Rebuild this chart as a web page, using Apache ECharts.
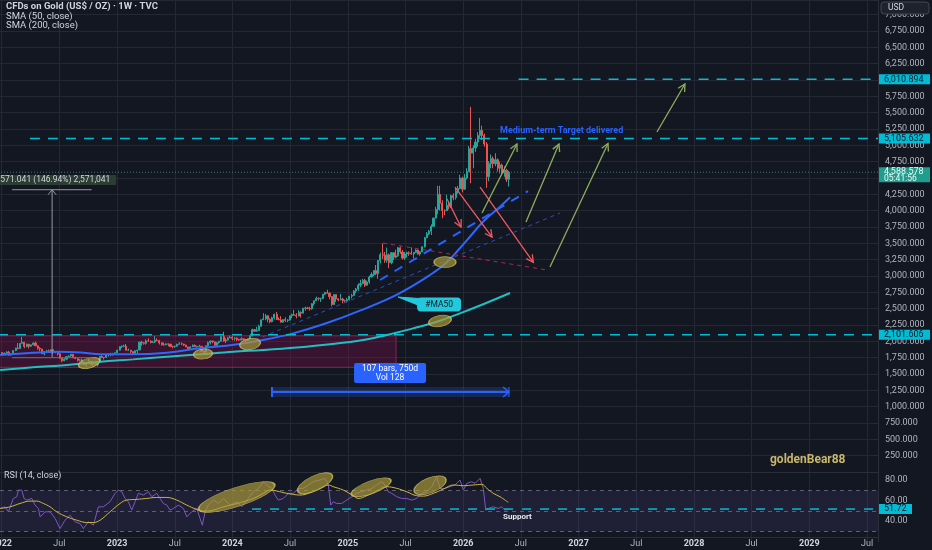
<!DOCTYPE html>
<html><head><meta charset="utf-8">
<script src="https://cdn.jsdelivr.net/npm/echarts@6/dist/echarts.min.js"></script>
<style>html,body{margin:0;padding:0;background:#131722;overflow:hidden}#c{width:932px;height:550px}</style>
</head><body><div id="c"></div>
<script>
// ---------- DATA ----------
const firstBarUTC = Date.UTC(2022, 0, 3);   // weekly bars, Monday dates
const firstOpen = 1829;
const weekClose = [
 1797,1818,1835,1791,1808,1859,1898,1889,1970,1988,1921,1958,1925,1947,1975,1931,1896,1883,1811,1846,1853,1850,1871,1840,1827,1811,1742,1703,1727,1766,1775,1802,1747,1738,1712,1716,1675,1643,1660,1694,1644,1657,1644,1681,1771,1751,1755,1797,1797,1793,1798,1824,
 1865,1920,1926,1928,1865,1865,1842,1811,1856,1868,1989,1978,1969,2007,2004,1983,1990,2017,2011,1977,1946,1948,1961,1958,1921,1919,1925,1955,1962,1959,1943,1914,1889,1915,1940,1919,1924,1925,1849,1833,1932,1981,2006,1993,1940,1981,2002,2072,2005,2019,2053,2063,
 2045,2049,2029,2018,2039,2024,2013,2035,2083,2179,2155,2165,2230,2330,2344,2392,2337,2301,2360,2415,2334,2327,2294,2333,2321,2326,2392,2411,2400,2387,2443,2431,2507,2512,2503,2497,2577,2622,2658,2653,2657,2721,2747,2737,2685,2563,2716,2650,2633,2648,2622,2621,2640,
 2690,2703,2770,2800,2861,2883,2936,2858,2910,2984,3023,3084,3037,3237,3327,3319,3240,3325,3203,3357,3289,3310,3432,3368,3274,3337,3355,3350,3337,3363,3398,3336,3371,3448,3586,3643,3685,3760,3886,4018,4250,4112,4002,4000,4085,4065,4230,4200,4300,4340,4500,4330,
 4500,4600,4950,4880,4960,5050,5150,5230,5150,5020,4520,4720,4800,4720,4780,4650,4700,4580,4620,4480,4588.578
];
const weekHigh = [
 1831,1828,1848,1853,1816,1865,1902,1974,1974,2070,1990,1966,1960,1948,1982,1998,1936,1910,1884,1850,1870,1874,1875,1879,1847,1834,1813,1745,1739,1767,1788,1807,1804,1765,1740,1729,1735,1688,1676,1730,1700,1669,1675,1682,1773,1787,1760,1805,1810,1824,1823,1834,
 1870,1922,1937,1949,1959,1890,1870,1847,1858,1870,1990,2009,1987,2032,2048,2015,2009,2079,2048,2022,1985,1983,1972,1971,1959,1933,1935,1963,1987,1982,1963,1948,1918,1926,1953,1953,1933,1947,1926,1856,1935,1997,2009,2010,1994,1993,2008,2075,2146,2047,2070,2088,
 2078,2062,2060,2041,2065,2044,2032,2041,2088,2195,2185,2223,2255,2330,2431,2418,2395,2353,2378,2422,2450,2364,2387,2335,2369,2339,2392,2424,2483,2432,2477,2461,2509,2531,2528,2529,2586,2625,2685,2673,2668,2722,2758,2790,2750,2690,2721,2721,2657,2726,2665,2638,2665,
 2697,2726,2786,2817,2886,2942,2955,2956,2930,3005,3057,3086,3168,3245,3358,3500,3368,3435,3345,3366,3365,3403,3446,3452,3398,3365,3375,3377,3439,3363,3409,3404,3378,3453,3600,3674,3707,3791,3897,4059,4380,4381,4160,4020,4245,4135,4245,4265,4350,4380,4550,4520,
 4560,4650,4990,5590,5000,5100,5200,5420,5300,5180,5050,4760,4860,4830,4880,4800,4750,4720,4680,4640,4610
];
const weekLow = [
 1782,1790,1805,1780,1780,1807,1850,1878,1889,1966,1895,1910,1890,1915,1940,1930,1872,1850,1808,1786,1840,1828,1825,1805,1818,1784,1733,1681,1696,1711,1754,1765,1745,1728,1688,1690,1654,1639,1614,1660,1640,1617,1638,1616,1673,1747,1721,1745,1766,1774,1784,1795,
 1824,1861,1896,1911,1861,1852,1819,1809,1804,1809,1865,1934,1949,1949,1992,1969,1975,1976,2000,1951,1936,1932,1940,1925,1910,1893,1902,1920,1952,1942,1928,1911,1885,1884,1913,1913,1901,1913,1846,1810,1833,1908,1953,1970,1932,1931,1965,2001,1995,1973,2016,2052,
 2016,2013,2001,2009,2016,2015,1984,2010,2024,2078,2146,2146,2163,2228,2326,2324,2291,2277,2291,2336,2326,2325,2287,2286,2296,2293,2319,2353,2392,2353,2383,2364,2431,2470,2491,2471,2485,2546,2614,2625,2603,2646,2708,2730,2643,2537,2558,2605,2614,2630,2583,2603,2596,
 2625,2656,2693,2736,2772,2832,2883,2832,2853,2880,2982,2999,3015,2957,3194,3260,3202,3202,3120,3180,3245,3270,3293,3340,3255,3247,3283,3309,3325,3268,3352,3330,3311,3364,3436,3578,3627,3628,3760,3884,3947,4004,3886,3930,4000,4020,4040,4160,4170,4260,4330,4280,
 4320,4480,4590,4420,4650,4900,4980,5100,5080,4980,4350,4450,4650,4650,4680,4600,4570,4540,4520,4440,4370
];
// SMA lines: [decimal year, price]
const sma50Pts = [[2021.986,1791],[2022.272,1826],[2022.480,1841],[2022.705,1826],[2022.853,1801],[2023.139,1801],[2023.433,1826],[2023.719,1893],[2023.997,1944],[2024.265,2020],[2024.525,2122],[2024.819,2280],[2025.105,2470],[2025.435,2724],[2025.712,3015],[2025.859,3214],[2026.033,3550],[2026.172,3830],[2026.319,4060],[2026.406,4205]];
const sma200Pts = [[2021.986,1561],[2022.272,1602],[2022.567,1637],[2022.853,1688],[2023.139,1724],[2023.433,1764],[2023.719,1801],[2024.005,1841],[2024.265,1867],[2024.560,1905],[2024.846,1954],[2025.132,2020],[2025.340,2097],[2025.565,2199],[2025.773,2300],[2025.972,2429],[2026.189,2580],[2026.406,2740]];
// RSI(14) and its MA
const rsiPts = [[2021.986,52.3],[2022.029,53.9],[2022.058,49.0],[2022.101,62.1],[2022.131,63.8],[2022.145,70.3],[2022.174,70.3],[2022.194,62.1],[2022.217,60.5],[2022.261,62.1],[2022.289,55.6],[2022.318,52.3],[2022.333,44.1],[2022.376,49.0],[2022.419,49.0],[2022.463,42.5],[2022.506,32.6],[2022.549,40.8],[2022.593,45.7],[2022.636,39.2],[2022.679,37.5],[2022.708,32.6],[2022.751,39.2],[2022.795,35.9],[2022.838,53.9],[2022.881,53.9],[2022.939,58.9],[2022.983,67.1],[2023.011,70.3],[2023.041,68.7],[2023.069,62.1],[2023.098,58.9],[2023.127,50.7],[2023.156,58.9],[2023.185,67.1],[2023.228,65.4],[2023.271,68.7],[2023.301,63.8],[2023.344,67.1],[2023.373,62.1],[2023.401,57.2],[2023.431,55.6],[2023.459,50.7],[2023.488,52.3],[2023.531,55.6],[2023.575,52.3],[2023.605,44.1],[2023.647,49.0],[2023.691,52.3],[2023.719,42.5],[2023.739,35.9],[2023.763,49.0],[2023.791,55.6],[2023.835,60.5],[2023.878,57.2],[2023.921,62.1],[2023.979,55.6],[2024.037,58.9],[2024.081,53.9],[2024.138,62.1],[2024.181,68.7],[2024.225,72.0],[2024.268,78.5],[2024.297,75.3],[2024.341,72.0],[2024.369,65.4],[2024.398,60.5],[2024.441,62.1],[2024.485,67.1],[2024.527,67.1],[2024.571,72.0],[2024.614,72.0],[2024.658,75.3],[2024.701,78.5],[2024.759,80.2],[2024.802,81.8],[2024.831,75.3],[2024.852,55.6],[2024.874,58.9],[2024.904,57.2],[2024.947,57.2],[2024.991,60.5],[2025.034,63.8],[2025.077,67.1],[2025.120,68.7],[2025.164,70.3],[2025.207,72.0],[2025.250,75.3],[2025.294,78.5],[2025.322,75.3],[2025.351,68.7],[2025.380,67.1],[2025.424,63.8],[2025.467,62.1],[2025.510,62.1],[2025.554,60.5],[2025.597,62.1],[2025.641,67.1],[2025.684,68.7],[2025.727,73.6],[2025.770,83.5],[2025.799,72.0],[2025.842,72.0],[2025.886,73.6],[2025.929,75.3],[2025.972,80.2],[2026.001,70.3],[2026.031,76.9],[2026.074,78.5],[2026.103,76.9],[2026.146,81.8],[2026.174,72.0],[2026.195,50.7],[2026.218,52.3],[2026.261,53.9],[2026.304,52.3],[2026.333,53.9],[2026.362,50.7],[2026.391,51.72]];
const rsiMaPts = [[2021.986,52.3],[2022.073,53.9],[2022.159,57.2],[2022.246,59.5],[2022.304,59.5],[2022.361,57.2],[2022.419,53.9],[2022.477,49.0],[2022.564,44.1],[2022.651,40.8],[2022.737,38.5],[2022.795,38.5],[2022.853,40.8],[2022.939,49.0],[2023.026,57.2],[2023.084,60.5],[2023.171,61.2],[2023.257,62.1],[2023.344,63.1],[2023.431,63.1],[2023.517,60.5],[2023.604,55.6],[2023.691,51.3],[2023.748,49.7],[2023.835,50.7],[2023.921,53.9],[2024.008,56.2],[2024.094,58.9],[2024.181,62.1],[2024.268,67.1],[2024.326,70.3],[2024.384,69.4],[2024.471,67.1],[2024.527,66.1],[2024.585,65.4],[2024.672,67.7],[2024.759,72.0],[2024.831,75.3],[2024.874,73.6],[2024.961,70.3],[2025.048,64.8],[2025.091,62.1],[2025.164,64.8],[2025.250,69.4],[2025.337,73.6],[2025.424,72.0],[2025.510,68.7],[2025.597,64.8],[2025.654,64.4],[2025.741,67.1],[2025.828,71.3],[2025.915,75.3],[2026.001,74.6],[2026.088,75.3],[2026.161,75.9],[2026.205,72.0],[2026.261,67.1],[2026.319,63.8],[2026.391,58.2]];
const rsiLast = 51.72;
const clockText = '05:41:56';
// Drawn levels and annotations (data space: decimal year, price)
const levelPrices = [6010.894, 5105.632, 2101.606];
const levelStarts = [2026.48, 2022.245, 2021.5];
const rsiSupportStart = 2024.17;
const blueTrend = [[2025.279,2939],[2026.562,4301]];
const blueThinTrend = [[2024.196,2020],[2026.839,3964]];
const redTrend = [[2025.305,3505],[2026.726,3092]];
const redArrows = [[2025.860,4178,2025.981,3750],[2025.929,4362,2026.250,3597],[2026.146,4362,2026.608,3210]];
const greenArrows = [[2026.163,3964,2026.466,5020],[2026.544,3826,2026.830,5020],[2026.752,3138,2027.255,5028],[2027.679,5204,2027.922,5939]];
const priceEllipses = [[2022.758,1668],[2023.745,1806],[2024.153,1959],[2025.799,2311],[2025.842,3214]];
const rsiEllipses = [[2024.037,63.5],[2024.716,77],[2025.202,73],[2025.713,75]];
const zoneBox = [[2021.5,1602],[2025.418,2085]];
const measure = {x:2022.437, x0:2022.09, x1:2022.78, from:1749.7, to:4320.7, labelPrice:4469, text:'2,571.041 (146.94%) 2,571,041'};
const dateRange = {x0:2024.343, x1:2026.397, lo:1148, mid:1224, hi:1301, labelX:2025.366, labelP:1515, text:['107 bars, 750d','Vol 128']};
const ma50Callout = {x:2025.791, p:2564, tipX:2025.435, tipP:2678, text:'#MA50'};
const targetNote = {x:2026.319, p:5219, text:'Medium-term Target delivered'};
const supportNote = {x:2026.345, v:43.6, text:'Support'};

// ---------- HELPERS ----------
const X_MIN = 2021.5, X_MAX = 2029.595;
function decYear(ms){const d=new Date(ms);const y=d.getUTCFullYear();const a=Date.UTC(y,0,1),b=Date.UTC(y+1,0,1);return y+(ms-a)/(b-a);}
const candles = weekClose.map((c,i)=>{const o=i===0?firstOpen:weekClose[i-1];return [decYear(firstBarUTC+i*7*864e5),o,c,Math.min(weekLow[i],o,c),Math.max(weekHigh[i],o,c)];});
const lastPrice = weekClose[weekClose.length-1];
const fmtPrice = v => v.toLocaleString('en-US',{minimumFractionDigits:3,maximumFractionDigits:3});
const tagPrices = levelPrices.concat([lastPrice]);

const UP='#26a69a', DN='#ef5350', BG='#131722', GRIDC='#232834', AXT='#b2b5be', TXT='#d1d4dc';
const FONT='Roboto, "DejaVu Sans", sans-serif';
const CYAN='#00bcd4', BLUE='#2962ff', RED='#f05a62', GREEN='#8fae5c';
const ELL_STYLE={color:'rgba(170,154,56,0.86)',borderColor:'rgba(214,199,105,0.9)',borderWidth:1};
const priceEllShape=[[22,10,15],[19,10,5],[21,11,10],[23,11,10],[22,11,0]];
const rsiEllShape=[[80,19,18],[38,15,25],[42,13,20],[34,15,22]];

function arrowItem(color){
  return function(params, api){
    const p1=api.coord([api.value(0),api.value(1)]), p2=api.coord([api.value(2),api.value(3)]);
    const ang=Math.atan2(p2[1]-p1[1],p2[0]-p1[0]), L=8, a=Math.PI/6.5;
    const h1=[p2[0]-L*Math.cos(ang-a),p2[1]-L*Math.sin(ang-a)], h2=[p2[0]-L*Math.cos(ang+a),p2[1]-L*Math.sin(ang+a)];
    return {type:'group',children:[
      {type:'line',shape:{x1:p1[0],y1:p1[1],x2:p2[0],y2:p2[1]},style:{stroke:color,lineWidth:1.3}},
      {type:'polyline',shape:{points:[h1,p2,h2]},style:{stroke:color,fill:null,lineWidth:1.3}}
    ]};
  };
}
function seg(data, style, z, gi){return {type:'line',xAxisIndex:gi||0,yAxisIndex:gi||0,data:data,showSymbol:false,silent:true,z:z||7,lineStyle:style};}

const series = [
  {type:'line',name:'zones',data:[[X_MIN,0]],showSymbol:false,lineStyle:{opacity:0},silent:true,z:1,
   markArea:{silent:true,itemStyle:{color:'rgba(136,14,79,0.33)',borderColor:'rgba(160,38,88,0.85)',borderWidth:1},
     data:[[{coord:zoneBox[0]},{coord:zoneBox[1]}]]}},
  {type:'candlestick',name:'gold',data:candles,encode:{x:0,y:[1,2,3,4]},barWidth:1.6,z:5,
   itemStyle:{color:UP,color0:DN,borderColor:UP,borderColor0:DN,borderWidth:1}},
  {type:'line',name:'SMA200',data:sma200Pts,showSymbol:false,smooth:0.4,z:6,lineStyle:{color:'#22bfc2',width:2}},
  {type:'line',name:'SMA50',data:sma50Pts,showSymbol:false,smooth:0.4,z:6,lineStyle:{color:'#2f66ff',width:2}},
  seg([[X_MIN,lastPrice],[X_MAX,lastPrice]],{color:'rgba(80,160,150,0.7)',width:1,type:[1,2]},4),
  seg(blueThinTrend,{color:'#2d4fb5',width:1,type:[4,4]},7),
  seg(redTrend,{color:'#a8285a',width:1,type:[4,4]},7),
  seg(blueTrend,{color:BLUE,width:2,type:[9,8]},7),
];
levelPrices.forEach((p,i)=>series.push(seg([[levelStarts[i],p],[X_MAX,p]],{color:CYAN,width:1.5,type:[10,8]},7)));
series.push(
  {type:'custom',name:'redArrows',data:redArrows,encode:{x:[0,2],y:[1,3]},renderItem:arrowItem(RED),z:8,silent:true},
  {type:'custom',name:'greenArrows',data:greenArrows,encode:{x:[0,2],y:[1,3]},renderItem:arrowItem(GREEN),z:8,silent:true},
  {type:'scatter',name:'ellipses',data:priceEllipses.map((d,i)=>({value:d,symbolSize:[priceEllShape[i][0],priceEllShape[i][1]],symbolRotate:priceEllShape[i][2]})),symbol:'circle',z:9,silent:true,itemStyle:ELL_STYLE},
  // RSI pane
  {type:'line',name:'RSI',xAxisIndex:1,yAxisIndex:1,data:rsiPts,showSymbol:false,z:5,lineStyle:{color:'#7e57c2',width:1},
   markArea:{silent:true,itemStyle:{color:'rgba(126,87,194,0.12)'},data:[[{yAxis:30},{yAxis:70}]]},
   markLine:{silent:true,symbol:'none',label:{show:false},lineStyle:{color:'#5d606b',type:[4,4],width:1},data:[{yAxis:70},{yAxis:50},{yAxis:30}]}},
  {type:'line',name:'RSI MA',xAxisIndex:1,yAxisIndex:1,data:rsiMaPts,showSymbol:false,smooth:0.4,z:6,lineStyle:{color:'#cdb83d',width:1}},
  seg([[rsiSupportStart,rsiLast],[X_MAX,rsiLast]],{color:CYAN,width:1.5,type:[9,9]},7,1),
  {type:'scatter',name:'rsiEllipses',xAxisIndex:1,yAxisIndex:1,data:rsiEllipses.map((d,i)=>({value:d,symbolSize:[rsiEllShape[i][0],rsiEllShape[i][1]],symbolRotate:rsiEllShape[i][2]})),symbol:'circle',z:9,silent:true,itemStyle:ELL_STYLE}
);

const xLabel = v => {const r=Math.round(v*2)/2; if(Math.abs(v-r)>1e-6) return ''; return (r%1===0)?'{y|'+r+'}':'{m|Jul}';};
const yLabel = v => {
  if(!(v>0&&v<7225&&Math.abs(v%250)<1e-6)) return '';
  if(tagPrices.some(p=>Math.abs(p-v)<95)) return '';
  return fmtPrice(v);
};
const option = {
  backgroundColor:BG, animation:false, textStyle:{fontFamily:FONT},
  grid:[
    {left:-56,right:54,top:0,height:472,outerBoundsMode:'none'},
    {left:-56,right:54,top:470,height:71.4,outerBoundsMode:'none'}
  ],
  xAxis:[
    {type:'value',gridIndex:0,min:X_MIN,max:X_MAX,interval:0.5,axisLabel:{show:false},axisTick:{show:false},
     axisLine:{show:true,lineStyle:{color:'#2a2e39'}},splitLine:{show:true,lineStyle:{color:GRIDC}}},
    {type:'value',gridIndex:1,min:X_MIN,max:X_MAX,interval:0.5,offset:-4,axisTick:{show:false},
     axisLine:{show:true,lineStyle:{color:'#2a2e39'}},splitLine:{show:true,lineStyle:{color:GRIDC}},
     axisLabel:{margin:2,formatter:xLabel,rich:{y:{fontSize:9,color:TXT,fontWeight:'bold',fontFamily:FONT},m:{fontSize:9,color:AXT,fontFamily:FONT}}}}
  ],
  yAxis:[
    {type:'value',gridIndex:0,position:'right',min:0,max:7225,interval:250,
     axisLine:{show:true,lineStyle:{color:'#2a2e39'}},axisTick:{show:false},splitLine:{show:true,lineStyle:{color:GRIDC}},
     axisLabel:{margin:7,color:AXT,fontSize:9,fontFamily:FONT,formatter:yLabel}},
    {type:'value',gridIndex:1,position:'right',min:20,max:90,interval:20,
     axisLine:{show:true,lineStyle:{color:'#2a2e39'}},axisTick:{show:false},splitLine:{show:false},
     axisLabel:{margin:7,color:AXT,fontSize:9,fontFamily:FONT,formatter:v=>(v===40||v===60||v===80)?v.toFixed(2):''}}
  ],
  series:series
};
const chart = echarts.init(document.getElementById('c'),null,{renderer:'canvas',width:932,height:550});
chart.setOption(option);

// ---------- annotations placed through the axes ----------
const P = (g,x,y)=>chart.convertToPixel({gridIndex:g},[x,y]);
const G = [];
const ZL = 1;
const txt = (x,y,text,o)=>G.push({type:'text',x:x,y:y,z:101,zlevel:ZL,silent:true,style:Object.assign({text:text,fill:TXT,fontSize:9,fontFamily:FONT,align:'left',verticalAlign:'middle'},o||{})});
const rect = (x,y,w,h,fill,o)=>G.push({type:'rect',z:100,zlevel:ZL,silent:true,shape:{x:x,y:y,width:w,height:h,r:(o&&o.r)||0},style:Object.assign({fill:fill},(o&&o.style)||{})});
const line = (x1,y1,x2,y2,stroke,w)=>G.push({type:'line',z:99,zlevel:ZL,silent:true,shape:{x1,y1,x2,y2},style:{stroke:stroke,lineWidth:w||1}});
const poly = (pts,stroke,w,fill)=>G.push({type:fill?'polygon':'polyline',z:99,zlevel:ZL,silent:true,shape:{points:pts},style:{stroke:stroke,lineWidth:w||1,fill:fill||null}});

// header legend
txt(6,7,'CFDs on Gold (US$ / OZ) \u00b7 1W \u00b7 TVC',{fontSize:9.5,fontWeight:'bold'});
txt(6,16.5,'SMA (50, close)',{fontSize:9.5});
txt(6,25.5,'SMA (200, close)',{fontSize:9.5});
txt(4,476,'RSI (14, close)',{fontSize:9});
txt(770,460,'goldenBear88',{fontSize:12,fontWeight:'bold',fill:'#c9b76a'});
rect(881,2,48,12,'#1e222d',{r:3,style:{stroke:'#434651',lineWidth:1}});
txt(888,8,'USD',{fontSize:8.5});

// price-axis tags
levelPrices.forEach(p=>{const y=P(0,X_MAX,p)[1];rect(879,y-5,51,10,CYAN);txt(884,y,fmtPrice(p),{fill:'#131722',fontSize:9});});
{const y=P(0,X_MAX,lastPrice)[1];rect(879,y-5,51,15,'#1f9e8d');txt(884,y,fmtPrice(lastPrice),{fill:'#eef7f5',fontSize:9});txt(884,y+7,clockText,{fill:'#eef7f5',fontSize:8.5});}
{const y=P(1,X_MAX,rsiLast)[1];rect(879,y-5,33,10,CYAN);txt(884,y,rsiLast.toFixed(2),{fill:'#131722',fontSize:9});}

// measure tool
{const a=P(0,measure.x,measure.from),b=P(0,measure.x,measure.to),l=P(0,measure.x0,measure.to),r=P(0,measure.x1,measure.to),lb=P(0,measure.x0,measure.from),rb=P(0,measure.x1,measure.from);
 line(a[0],a[1],b[0],b[1],'#9598a1',1);poly([[b[0]-4,b[1]+5],[b[0],b[1]],[b[0]+4,b[1]+5]],'#9598a1',1);
 line(l[0],l[1],r[0],r[1],'#9598a1',1);line(lb[0],lb[1],rb[0],rb[1],'#6b6f7a',1);
 const c=P(0,measure.x,measure.labelPrice);rect(c[0]-64,c[1]-5,128,10,'#2c3e33');txt(c[0],c[1],measure.text,{align:'center',fontSize:8.5});}

// date range tool
{const a=P(0,dateRange.x0,dateRange.hi),b=P(0,dateRange.x1,dateRange.lo),m0=P(0,dateRange.x0,dateRange.mid),m1=P(0,dateRange.x1,dateRange.mid);
 G.push({type:'rect',z:3,silent:true,shape:{x:a[0],y:a[1],width:b[0]-a[0],height:b[1]-a[1]},style:{fill:'rgba(41,98,255,0.22)'}});
 line(m0[0],m0[1],m1[0],m1[1],BLUE,2);line(a[0],a[1],a[0],b[1],BLUE,2);line(b[0],a[1],b[0],b[1],BLUE,1);
 poly([[m1[0]-6,m1[1]-5],[m1[0],m1[1]],[m1[0]-6,m1[1]+5]],BLUE,1.5);
 const c=P(0,dateRange.labelX,dateRange.labelP);rect(c[0]-36,c[1]-10,72,20,BLUE,{r:2});
 txt(c[0],c[1]-4.5,dateRange.text[0],{align:'center',fill:'#ffffff',fontSize:8.5});txt(c[0],c[1]+5,dateRange.text[1],{align:'center',fill:'#ffffff',fontSize:8.5});}

// #MA50 callout
{const c=P(0,ma50Callout.x,ma50Callout.p),t=P(0,ma50Callout.tipX,ma50Callout.tipP);
 poly([t,[c[0]-20,c[1]-6],[c[0]-20,c[1]+1]],'#22c9dc',1,'#22c9dc');
 rect(c[0]-22,c[1]-7,44,14,'#22c9dc',{r:4});txt(c[0],c[1],ma50Callout.text,{align:'center',fill:'#131722',fontSize:8.5});}

// notes
{const c=P(0,targetNote.x,targetNote.p);txt(c[0],c[1],targetNote.text,{fill:BLUE,fontSize:9,fontWeight:'bold'});}
{const c=P(1,supportNote.x,supportNote.v);txt(c[0],c[1],supportNote.text,{fill:'#e6e8ee',fontSize:8,fontWeight:'bold'});}

chart.setOption({graphic:G});
</script></body></html>
